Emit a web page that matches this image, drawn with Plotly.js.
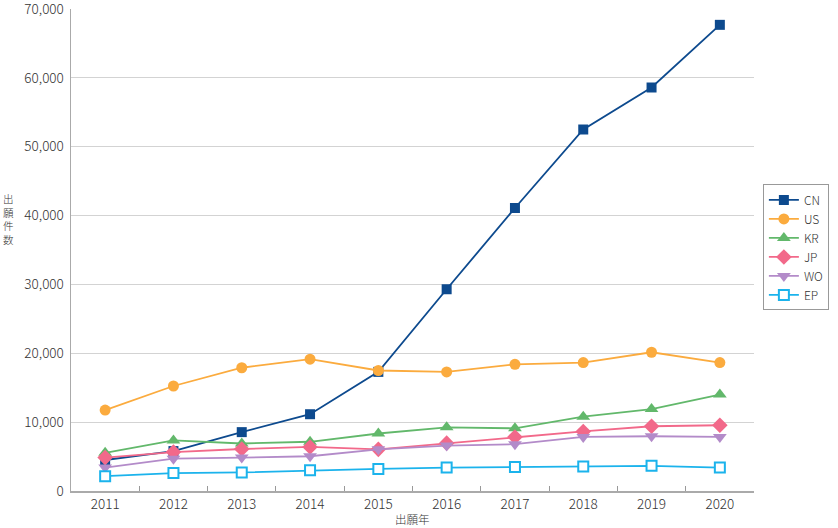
<!DOCTYPE html>
<html><head><meta charset="utf-8">
<script src="https://cdn.plot.ly/plotly-3.0.1.min.js"></script>
<style>html,body{margin:0;padding:0;background:#fff}#chart{width:838px;height:528px}</style>
</head><body><div id="chart"></div>
<script>
const years = ['2011','2012','2013','2014','2015','2016','2017','2018','2019','2020'];
const CN = [4500, 5800, 8550, 11150, 17300, 29300, 41100, 52500, 58600, 67700];
const US = [11750, 15250, 17900, 19150, 17500, 17300, 18400, 18650, 20150, 18650];
const KR = [5550, 7350, 6900, 7150, 8350, 9250, 9100, 10800, 11900, 14000];
const JP = [4850, 5650, 6100, 6400, 6050, 6950, 7850, 8650, 9400, 9550];
const WO = [3400, 4700, 4850, 5050, 6050, 6600, 6800, 7850, 7950, 7850];
const EP = [2150, 2600, 2700, 3000, 3200, 3400, 3500, 3550, 3650, 3400];
const yTicks = [0, 10000, 20000, 30000, 40000, 50000, 60000, 70000];

const font = "'Noto Sans CJK JP', 'Noto Sans', sans-serif";
function tr(name, y, color, symbol, size, fill) {
  return {x: years, y: y, name: name, type: 'scatter', mode: 'lines+markers',
    line: {color: color, width: 1.8},
    marker: {symbol: symbol, size: size, color: fill || color,
      line: {color: color, width: fill ? 2 : 0}}};
}
const data = [
  tr('CN', CN, '#0d4a8e', 'square', 10),
  tr('US', US, '#fbab3e', 'circle', 11),
  tr('KR', KR, '#62b86b', 'triangle-up', 12),
  tr('JP', JP, '#f2698a', 'diamond', 12),
  tr('WO', WO, '#b38bc9', 'triangle-down', 12),
  tr('EP', EP, '#1bb3ec', 'square', 10, '#ffffff')
];
const layout = {
  width: 838, height: 528,
  margin: {l: 71, r: 82, t: 9, b: 37},
  paper_bgcolor: '#fff', plot_bgcolor: '#fff',
  font: {family: font, size: 13, color: '#333', weight: 300},
  showlegend: true,
  legend: {x: 1.013, y: 0.636, xanchor: 'left', yanchor: 'top',
    bordercolor: '#999', borderwidth: 1, font: {size: 12, color: '#333'},
    tracegroupgap: 0, itemwidth: 30},
  xaxis: {type: 'category', range: [-0.5, 9.5], tickson: 'boundaries',
    ticks: 'inside', ticklen: 5, tickcolor: '#999', showgrid: false,
    showline: true, linecolor: '#aaa', linewidth: 1.5, zeroline: false,
    tickfont: {size: 13.5, color: '#333'}},
  yaxis: {range: [0, 70000], tickmode: 'array', tickvals: yTicks,
    ticktext: yTicks.map(v => v.toLocaleString('en-US') + ' '), ticks: '',
    ticklabeloverflow: 'allow',
    showgrid: true, gridcolor: '#d3d3d3', gridwidth: 1,
    showline: true, linecolor: '#aaa', linewidth: 1.5, zeroline: false,
    tickfont: {size: 13.5, color: '#333'}},
  annotations: [
    {text: '出<br>願<br>件<br>数', xref: 'paper', yref: 'paper', x: -0.102, y: 0.565,
      xanchor: 'left', yanchor: 'middle', showarrow: false, align: 'center',
      font: {size: 10.5, color: '#333'}},
    {text: '出願年', xref: 'paper', yref: 'paper', x: 0.5, y: -0.058,
      xanchor: 'center', yanchor: 'middle', showarrow: false,
      font: {size: 11.5, color: '#333'}}
  ]
};
Plotly.newPlot('chart', data, layout, {displayModeBar: false, staticPlot: true});
</script></body></html>
